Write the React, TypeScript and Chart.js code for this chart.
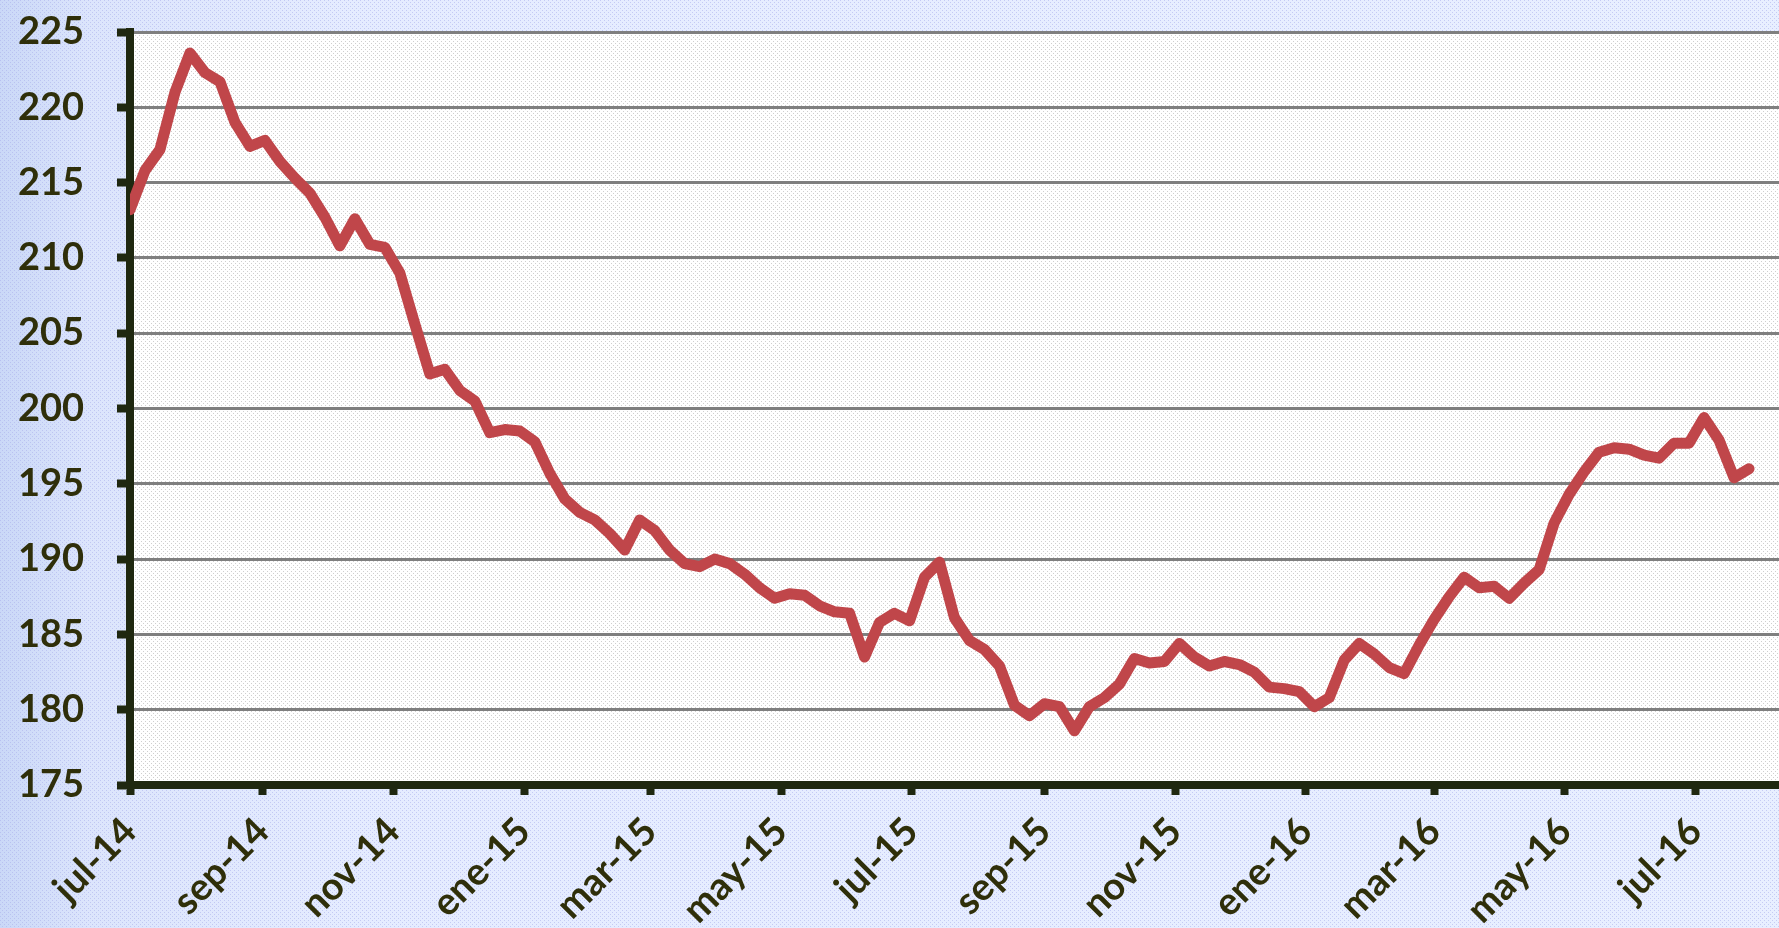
import React, { useEffect, useRef } from "react";
import { Chart, registerables } from "chart.js";

Chart.register(...registerables);

// Weekly values (first point = start of jul-14)
const WEEKLY_VALUES = [
  213.2, 215.8, 217.2, 221.0, 223.6, 222.3, 221.7, 219.0, 217.4, 217.8,
  216.4, 215.3, 214.3, 212.7, 210.8, 212.6, 210.9, 210.7, 209.0, 205.6,
  202.3, 202.6, 201.2, 200.5, 198.4, 198.6, 198.5, 197.8, 195.7, 194.0,
  193.1, 192.6, 191.7, 190.6, 192.6, 191.9, 190.6, 189.7, 189.5, 190.0,
  189.7, 189.0, 188.1, 187.4, 187.7, 187.6, 186.9, 186.5, 186.4, 183.5,
  185.8, 186.4, 185.9, 188.8, 189.8, 186.1, 184.6, 184.0, 182.9, 180.3,
  179.6, 180.4, 180.2, 178.6, 180.2, 180.8, 181.7, 183.4, 183.1, 183.2,
  184.4, 183.5, 182.9, 183.2, 183.0, 182.5, 181.5, 181.4, 181.2, 180.2,
  180.8, 183.3, 184.4, 183.7, 182.8, 182.4, 184.3, 186.0, 187.5, 188.8,
  188.1, 188.2, 187.4, 188.4, 189.3, 192.4, 194.3, 195.8, 197.1, 197.4,
  197.3, 196.9, 196.7, 197.7, 197.7, 199.4, 197.9, 195.4, 196.0,
];
const DAYS_PER_POINT = 7;

// Tick labels and their day offsets from the start (jul-14)
const TICK_LABELS = [
  "jul-14", "sep-14", "nov-14", "ene-15", "mar-15", "may-15", "jul-15",
  "sep-15", "nov-15", "ene-16", "mar-16", "may-16", "jul-16",
];
const TICK_DAYS = [0, 62, 123, 184, 243, 304, 365, 427, 488, 549, 609, 670, 731];

const Y_MIN = 175;
const Y_MAX = 225;
const Y_STEP = 5;
const X_MAX_DAYS = 770;

const DARK = "#1f2810";
const TEXT = "#2f2f0a";
const LINE = "#c0464a";

function makePattern(size: number, dots: [number, number][], color: string) {
  const c = document.createElement("canvas");
  c.width = size;
  c.height = size;
  const x = c.getContext("2d")!;
  x.fillStyle = color;
  dots.forEach(([a, b]) => x.fillRect(a, b, 1, 1));
  return c;
}

const bgPlugin = {
  id: "bgPlugin",
  beforeDraw(chart: any) {
    const { ctx, width, height, chartArea } = chart;
    ctx.save();
    const g = ctx.createLinearGradient(0, 0, width, 0);
    g.addColorStop(0, "#cad8f7");
    g.addColorStop(0.05, "#dce5fc");
    g.addColorStop(0.2, "#e5ecff");
    g.addColorStop(1, "#e8efff");
    ctx.fillStyle = g;
    ctx.fillRect(0, 0, width, height);
    const op = ctx.createPattern(
      makePattern(4, [[0, 0], [2, 2]], "rgba(170,175,235,0.55)"),
      "repeat"
    );
    ctx.fillStyle = op;
    ctx.fillRect(0, 0, width, height);
    ctx.fillStyle = "#ffffff";
    ctx.fillRect(chartArea.left, chartArea.top, chartArea.right - chartArea.left, chartArea.bottom - chartArea.top);
    const pp = ctx.createPattern(
      makePattern(4, [[1, 1], [3, 3]], "rgba(195,195,195,0.8)"),
      "repeat"
    );
    ctx.fillStyle = pp;
    ctx.fillRect(chartArea.left, chartArea.top, chartArea.right - chartArea.left, chartArea.bottom - chartArea.top);
    ctx.restore();
  },
};

export default function App() {
  const ref = useRef<HTMLCanvasElement | null>(null);

  useEffect(() => {
    document.body.style.margin = "0";
    const canvas = ref.current;
    if (!canvas) return;
    const points = WEEKLY_VALUES.map((v, i) => ({ x: i * DAYS_PER_POINT, y: v }));
    const font = { family: "Lato, 'Open Sans', sans-serif", size: 38, weight: "bold" as const };
    const chart = new Chart(canvas, {
      type: "line",
      data: {
        datasets: [
          {
            data: points,
            borderColor: LINE,
            borderWidth: 11,
            pointRadius: 0,
            tension: 0,
            borderJoinStyle: "round",
            borderCapStyle: "round",
            fill: false,
          },
        ],
      },
      options: {
        animation: false,
        responsive: false,
        maintainAspectRatio: false,
        layout: { padding: { top: 32, left: 0, right: 0, bottom: 0 } },
        plugins: { legend: { display: false }, tooltip: { enabled: false } },
        scales: {
          x: {
            type: "linear",
            min: 0,
            max: X_MAX_DAYS,
            afterBuildTicks: (s: any) => {
              s.ticks = TICK_DAYS.map((v) => ({ value: v }));
            },
            afterFit: (s: any) => {
              s.height = 143;
              s.paddingLeft = 0;
              s.paddingRight = 0;
            },
            ticks: {
              autoSkip: false,
              minRotation: 45,
              maxRotation: 45,
              padding: 14,
              color: TEXT,
              font,
              callback: (_v: any, i: number) => TICK_LABELS[i],
            },
            grid: {
              drawOnChartArea: false,
              drawTicks: true,
              tickLength: 10,
              tickWidth: 8,
              tickColor: DARK,
            },
            border: { display: true, color: DARK, width: 8 },
          },
          y: {
            min: Y_MIN,
            max: Y_MAX,
            afterFit: (s: any) => {
              s.width = 130;
              s.paddingTop = 0;
              s.paddingBottom = 0;
            },
            ticks: { stepSize: Y_STEP, padding: 33, color: TEXT, font },
            grid: {
              color: "#7f7f7f",
              lineWidth: 3,
              tickLength: 13,
              tickWidth: 8,
              tickColor: DARK,
            },
            border: { display: true, color: DARK, width: 8 },
          },
        },
      },
      plugins: [bgPlugin],
    });
    return () => chart.destroy();
  }, []);

  return (
    <div style={{ position: "fixed", left: 0, top: 0, width: 1779, height: 928 }}>
      <canvas ref={ref} width={1779} height={928} style={{ width: 1779, height: 928, display: "block" }} />
    </div>
  );
}
